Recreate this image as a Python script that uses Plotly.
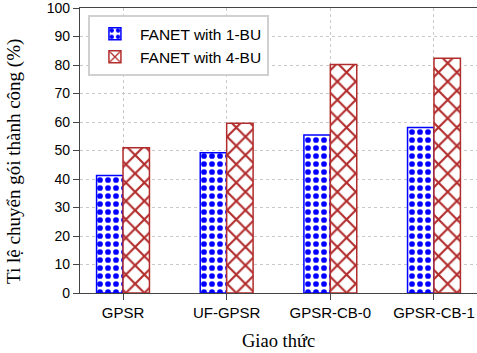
import plotly.graph_objects as go

categories = ["GPSR", "UF-GPSR", "GPSR-CB-0", "GPSR-CB-1"]
bu1_values = [41.2, 49.2, 55.4, 58.1]
bu4_values = [51.0, 59.6, 80.2, 82.4]
series_names = ["FANET with 1-BU", "FANET with 4-BU"]
y_ticks = list(range(0, 101, 10))
x_title = "Giao thức"
y_title = "Ti lệ chuyển gói thành công (%)"

fig = go.Figure()
fig.add_trace(go.Bar(
    x=categories, y=bu1_values, name=series_names[0],
    marker=dict(color="white", line=dict(color="#0000FF", width=1.5),
                pattern=dict(shape=".", fgcolor="#0000FF", bgcolor="white", fgopacity=1,
                             size=8, solidity=0.4, fillmode="replace")),
))
fig.add_trace(go.Bar(
    x=categories, y=bu4_values, name=series_names[1],
    marker=dict(color="white", line=dict(color="#B22C2C", width=1.5),
                pattern=dict(shape="x", fgcolor="#B22C2C", bgcolor="white", fgopacity=1,
                             size=13, solidity=0.3, fillmode="replace")),
))

serif = "Liberation Serif, Times New Roman, serif"
fig.update_layout(
    width=477, height=353,
    margin=dict(l=80, r=0, t=8, b=60),
    paper_bgcolor="white", plot_bgcolor="white",
    barmode="group", bargap=0.49, bargroupgap=0,
    font=dict(family="Liberation Sans, Arial, sans-serif", size=14, color="black"),
    showlegend=True,
    legend=dict(x=0.02, y=0.975, xanchor="left", yanchor="top",
                bgcolor="white", bordercolor="#d0d0d0", borderwidth=2,
                font=dict(size=15.5, family="Liberation Sans, Arial, sans-serif"),
                itemwidth=40, tracegroupgap=0),
    xaxis=dict(
        automargin=False,
        range=[-0.415, 3.415],
        showline=True, linecolor="#444", linewidth=1.2, mirror=True,
        ticks="outside", ticklen=6, tickcolor="#444",
        showgrid=True, gridcolor="#c8c8c8", griddash="dot", gridwidth=1,
        tickfont=dict(size=15), ticklabeloverflow="allow",
    ),
    yaxis=dict(
        automargin=False,
        range=[0, 100], tickvals=y_ticks,
        showline=True, linecolor="#444", linewidth=1.2, mirror=True,
        ticks="outside", ticklen=6, tickcolor="#444",
        showgrid=True, gridcolor="#c8c8c8", griddash="dot", gridwidth=1,
        zeroline=False, tickfont=dict(size=14), ticklabeloverflow="allow",
    ),
    annotations=[
        dict(text=y_title, xref="paper", yref="paper", x=0, y=0.46,
             xshift=-66, textangle=-90, showarrow=False,
             xanchor="center", yanchor="middle",
             font=dict(family=serif, size=19)),
        dict(text=x_title, xref="paper", yref="paper", x=0.5, y=0,
             yshift=-48, showarrow=False,
             xanchor="center", yanchor="middle",
             font=dict(family=serif, size=18.5)),
    ],
)

fig.write_html("out.html", config={"displayModeBar": False},
               post_script="document.body.style.margin='0';document.body.style.overflow='hidden';")
